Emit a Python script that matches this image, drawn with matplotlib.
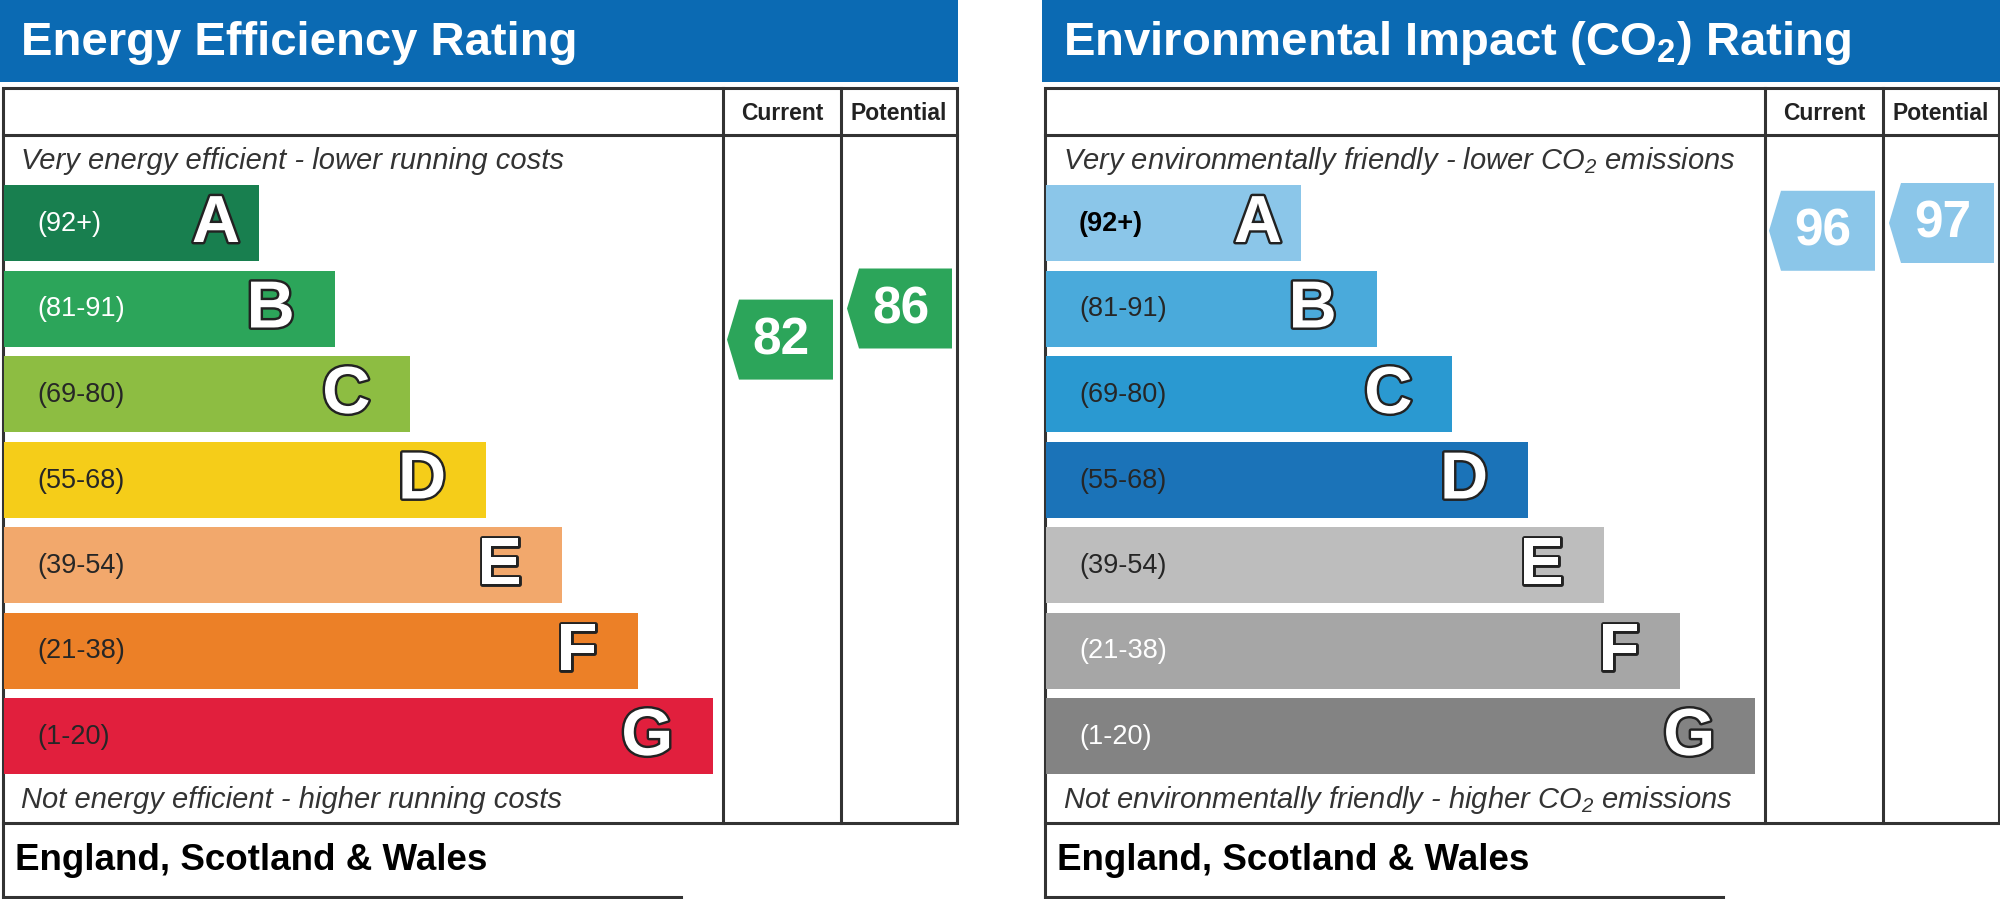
import matplotlib.pyplot as plt
from matplotlib.patches import Rectangle, Polygon
import matplotlib.patheffects as pe

plt.rcParams['font.family'] = ['Liberation Sans', 'DejaVu Sans']

# bands and their labels
bands = ['A', 'B', 'C', 'D', 'E', 'F', 'G']
ranges = ['(92+)', '(81-91)', '(69-80)', '(55-68)', '(39-54)', '(21-38)', '(1-20)']
band_lows = [92, 81, 69, 55, 39, 21, 1]

# energy efficiency panel
eer_colors = ['#187f4f', '#2ca55a', '#8dbd42', '#f5cd19', '#f2a86c', '#ec8027', '#e11f3d']
eer_label_colors = ['white', 'white', '#262626', '#262626', '#262626', '#262626', '#262626']
eer_label_weights = ['normal'] * 7
eer_current = 82
eer_potential = 86

# environmental impact panel
ei_colors = ['#8bc6e9', '#4aaadb', '#2a99d1', '#1b73b8', '#bdbdbd', '#a6a6a6', '#838383']
ei_label_colors = ['black', '#262626', '#262626', '#262626', '#262626', 'white', 'white']
ei_label_weights = ['bold'] + ['normal'] * 6
ei_current = 96
ei_potential = 97

header_blue = '#0b6ab3'
line_col = '#333333'

fig = plt.figure(figsize=(20, 8.99), dpi=100)
ax = fig.add_axes([0, 0, 1, 1])
ax.set_xlim(0, 2000)
ax.set_ylim(899, 0)
ax.axis('off')

# layout (pixels)
bar_top = 185
pitch = 85.5
bar_h = 76
bar_w0 = 255
bar_step = 75.7
col_cur = 723
col_pot = 841
col_end = 957


def rating_to_y(r):
    # linear scale, band B (81-91) centred on the B bar
    return bar_top + pitch + bar_h / 2 - (r - 86) * pitch / 11


def arrow_band(r):
    for i, lo in enumerate(band_lows):
        if r >= lo:
            return i
    return len(band_lows) - 1


def arrow(x_left, x_right, r, color):
    yc = rating_to_y(r)
    tip = 12
    pts = [(x_left + tip, yc - 40), (x_right, yc - 40), (x_right, yc + 40),
           (x_left + tip, yc + 40), (x_left, yc)]
    ax.add_patch(Polygon(pts, closed=True, facecolor=color, edgecolor='none'))
    ax.text((x_left + x_right) / 2 + 1, yc + 1, str(r), color='white', fontsize=37,
            fontweight='bold', ha='center', va='center')


def draw_panel(x0, title, top_text, bottom_text, colors, label_colors, label_weights,
               current, potential):
    # blue title band
    ax.add_patch(Rectangle((x0, 0), 958, 82, facecolor=header_blue, edgecolor='none'))
    ax.text(x0 + 21, 55, title, color='white', fontsize=34, fontweight='bold',
            ha='left', va='baseline')

    # table frame
    ax.add_patch(Rectangle((x0 + 3, 88), col_end - 3, 823 - 88, facecolor='none',
                           edgecolor=line_col, lw=2.2))
    ax.plot([x0 + 3, x0 + col_end], [135, 135], color=line_col, lw=2.2)
    ax.plot([x0 + col_cur, x0 + col_cur], [88, 823], color=line_col, lw=2.2)
    ax.plot([x0 + col_pot, x0 + col_pot], [88, 823], color=line_col, lw=2.2)
    ax.text(x0 + (col_cur + col_pot) / 2, 113, 'Current', fontsize=16.5, fontweight='bold',
            color='#222222', ha='center', va='center')
    ax.text(x0 + (col_pot + col_end) / 2, 113, 'Potential', fontsize=16.5, fontweight='bold',
            color='#222222', ha='center', va='center')

    ax.text(x0 + 21, 161, top_text, fontsize=21, style='italic', color='#333333',
            ha='left', va='center')
    ax.text(x0 + 21, 800, bottom_text, fontsize=21, style='italic', color='#333333',
            ha='left', va='center')

    # rating bars
    for i, band in enumerate(bands):
        y = bar_top + i * pitch
        right = x0 + bar_w0 + 4 + i * bar_step
        ax.add_patch(Rectangle((x0 + 4, y), right - x0 - 4, bar_h,
                               facecolor=colors[i], edgecolor='none'))
        ax.text(x0 + 37, y + bar_h / 2 + 1, ranges[i], fontsize=19.5, color=label_colors[i],
                fontweight=label_weights[i], ha='left', va='center')
        gap = 19 if i == 0 else 40
        ax.text(right - gap, y + bar_h / 2 + 2, band, fontsize=48, fontweight='bold',
                color='white', ha='right', va='center',
                path_effects=[pe.withStroke(linewidth=3.5, foreground='#222222')])

    arrow(x0 + col_cur + 4, x0 + col_pot - 8, current, colors[arrow_band(current)])
    arrow(x0 + col_pot + 6, x0 + col_end - 5, potential, colors[arrow_band(potential)])

    # footer box
    ax.plot([x0 + 3, x0 + 3], [823, 897], color=line_col, lw=2.2)
    ax.plot([x0 + 3, x0 + 681], [897, 897], color=line_col, lw=2.2)
    ax.text(x0 + 15, 860, 'England, Scotland & Wales', fontsize=26.5, fontweight='bold',
            color='black', ha='left', va='center')


draw_panel(0, 'Energy Efficiency Rating',
           'Very energy efficient - lower running costs',
           'Not energy efficient - higher running costs',
           eer_colors, eer_label_colors, eer_label_weights, eer_current, eer_potential)

draw_panel(1042, r'Environmental Impact (CO$_\mathregular{2}$) Rating',
           r'Very environmentally friendly - lower CO$_\mathregular{2}$ emissions',
           r'Not environmentally friendly - higher CO$_\mathregular{2}$ emissions',
           ei_colors, ei_label_colors, ei_label_weights, ei_current, ei_potential)

fig.savefig('out.png', dpi=100, facecolor='white')
